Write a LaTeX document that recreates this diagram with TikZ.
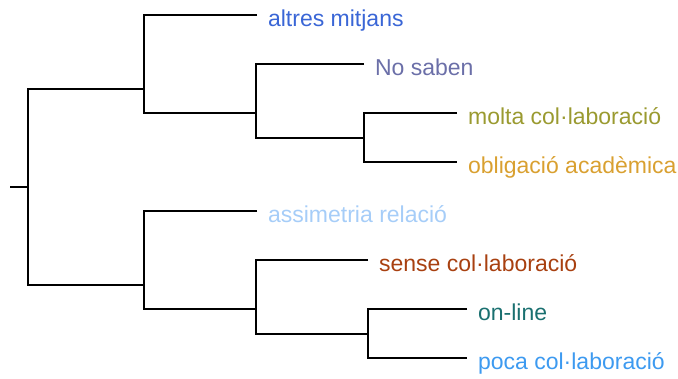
\documentclass[tikz,border=0pt]{standalone}
\usepackage{fontspec}
\setmainfont{Liberation Sans}
\usetikzlibrary{positioning}
% leaf colours
\definecolor{cAltres}{HTML}{3A66D6}
\definecolor{cNoSaben}{HTML}{6B6FA8}
\definecolor{cMolta}{HTML}{9A9A30}
\definecolor{cOblig}{HTML}{D9A030}
\definecolor{cAssim}{HTML}{A6CDF8}
\definecolor{cSense}{HTML}{A84010}
\definecolor{cOnline}{HTML}{1A7070}
\definecolor{cPoca}{HTML}{3D9AF0}
\begin{document}
\begin{tikzpicture}[x=1pt, y=-1pt, line width=2.2pt,
    leaf/.style={anchor=base west, inner sep=0pt, xshift=10pt, yshift=-11.5pt,
      font=\fontsize{23}{27}\selectfont}]
  \useasboundingbox (0,0) rectangle (678,379);
  %
  \coordinate (stub) at (10,187);
  \coordinate (root) at (28,187);
  \coordinate (A)  at (144,89);   % upper cluster
  \coordinate (A2) at (256,113);
  \coordinate (A3) at (364,138);
  \coordinate (B)  at (144,285);  % lower cluster
  \coordinate (B2) at (256,309);
  \coordinate (B3) at (368,334);
  %
  \coordinate (l1) at (257,15);
  \coordinate (l2) at (364,64);
  \coordinate (l3) at (457,113);
  \coordinate (l4) at (457,162);
  \coordinate (l5) at (257,211);
  \coordinate (l6) at (368,260);
  \coordinate (l7) at (467,309);
  \coordinate (l8) at (467,358);
  %
  \node[leaf, text=cAltres]  (n1) at (l1) {altres mitjans};
  \node[leaf, text=cNoSaben] (n2) at (l2) {No saben};
  \node[leaf, text=cMolta]   (n3) at (l3) {molta col·laboració};
  \node[leaf, text=cOblig]   (n4) at (l4) {obligació acadèmica};
  \node[leaf, text=cAssim]   (n5) at (l5) {assimetria relació};
  \node[leaf, text=cSense]   (n6) at (l6) {sense col·laboració};
  \node[leaf, text=cOnline]  (n7) at (l7) {on-line};
  \node[leaf, text=cPoca]    (n8) at (l8) {poca col·laboració};
  %
  \draw (stub) -- (root);
  \draw (A) -| (root) |- (B);      % root split
  %
  \draw (l1) -| (A) |- (A2);
  \draw (l2) -| (A2) |- (A3);
  \draw (l3) -| (A3) |- (l4);
  %
  \draw (l5) -| (B) |- (B2);
  \draw (l6) -| (B2) |- (B3);
  \draw (l7) -| (B3) |- (l8);
\end{tikzpicture}
\end{document}
